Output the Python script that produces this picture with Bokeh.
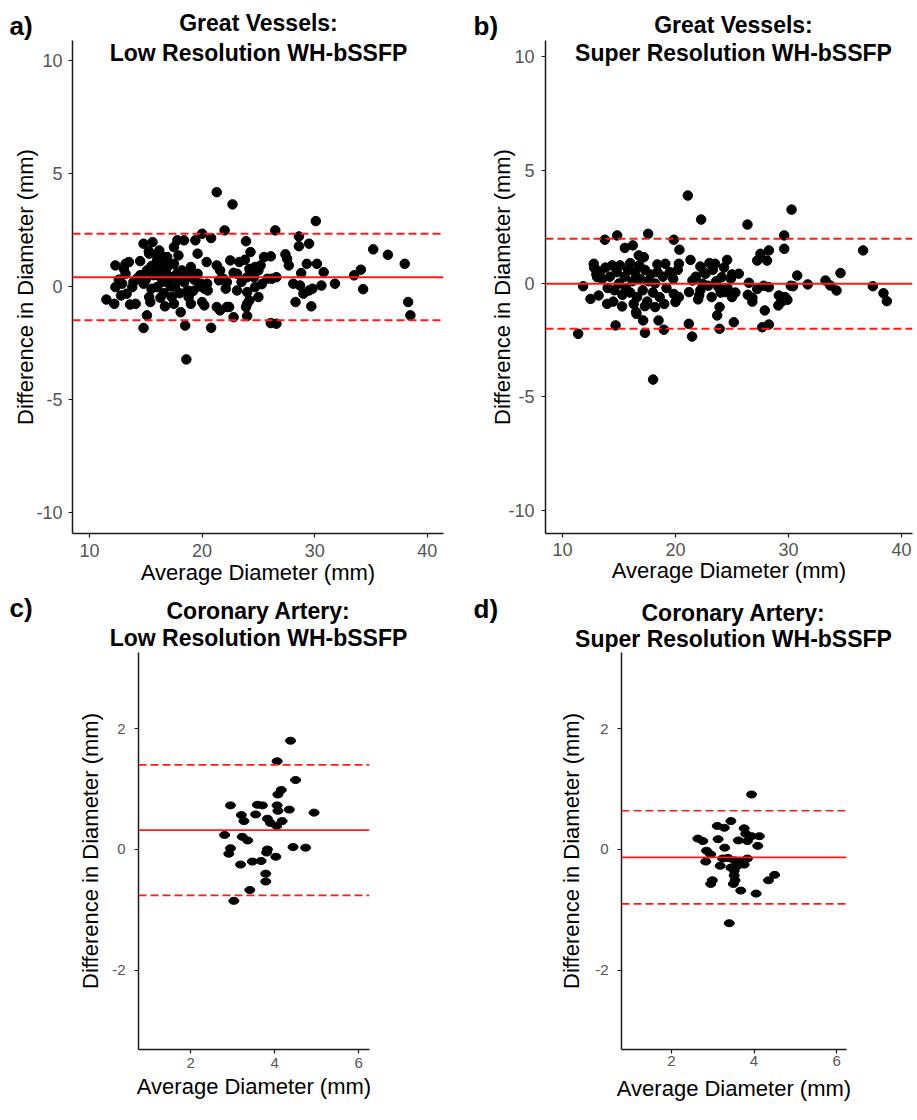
from bokeh.plotting import figure
from bokeh.models import Span, Label, FixedTicker, Range1d, ColumnDataSource, PrintfTickFormatter
from bokeh.layouts import column, row
from bokeh.embed import file_html
from bokeh.resources import INLINE

# ---------------- data ----------------
gv_low_avg = [11.5, 12.2, 12.3, 12.3, 12.6, 13.2, 13.5, 13.2, 12.9, 13.3, 13.6, 14.1, 14.5, 14.2, 13.8, 13.05, 12.8, 13.9,
              14.8, 15.6, 15.3, 15.1, 14.8, 15.3, 15.4, 15.1, 14.8, 15.27, 14.5, 15.0, 15.5, 15.7, 15.5,
              16.2, 16.0, 16.6, 16.9, 16.3, 16.0, 16.7, 16.0, 16.2, 16.5, 16.8, 16.4, 16.1, 16.6, 16.9, 16.3,
              17.5, 17.8, 18.4, 17.9, 17.5, 17.2, 17.6, 17.3, 17.5, 18.1, 18.5, 18.6, 16.9, 17.0, 17.8, 17.2, 17.9,
              18.2, 18.4, 18.7, 19.0, 18.8, 19.0, 19.4, 19.6, 20.0, 19.6, 19.9, 20.0, 20.2, 20.5, 20.4, 20.8, 20.8,
              18.6, 19.3, 18.0, 19.2, 20.2, 20.45, 18.9, 19.7,
              21.3, 21.3, 21.6, 21.5, 21.6, 22.0, 22.1, 22.4, 22.5, 22.7, 22.8, 23.3, 23.1, 23.9, 24.0, 24.0, 24.2,
              24.3, 24.2, 24.6, 25.0, 25.2, 25.5, 26.1, 25.8, 26.1, 26.5, 26.6, 26.6, 21.3, 22.2, 21.9, 23.1, 24.0,
              24.7, 25.0, 24.7, 24.0, 23.9, 22.2, 23.8, 26.2, 25.3, 23.5, 22.8,
              27.4, 27.7, 28.3, 28.1, 28.6, 28.6, 28.7, 28.8, 29.0, 29.3, 29.5, 29.5, 29.7, 30.1, 30.2, 30.6, 30.8,
              31.8, 33.5, 34.1, 34.3, 35.2, 36.5, 38.0, 38.3, 38.5, 27.55, 29.8]
gv_low_diff = [-0.58, -0.77, 0.93, -0.03, 0.30, 1.00, 1.08, 0.56, 0.12, -0.32, -0.80, -0.77, 1.12, 0.34, -0.03, 0.78, -0.40, 0.20,
               1.89, 1.96, 1.45, 0.71, 0.12, -0.47, -0.69, -1.28, -1.84, 1.56, 0.50, 0.30, 0.90, 0.50, -0.10,
               1.59, 1.15, 1.30, 0.86, 0.41, -0.03, -0.88, 1.37, 0.70, 0.20, 0.60, 1.00, 0.90, -0.30, 1.10, -0.50,
               1.74, 2.04, 2.04, 1.37, 1.00, 0.41, -0.03, -0.47, -0.77, -1.14, -1.73, -3.23, 1.30, 0.20, 0.60, 0.00, 0.30,
               0.71, 0.19, -0.18, 0.86, -0.47, -0.77, 2.04, 1.45, 2.33, 0.56, 0.12, -0.69, -0.84, -0.18, 1.08, -1.83, 2.14,
               0.40, 0.30, -0.30, -0.20, -0.10, 0.12, 0.60, 0.00,
               4.17, 0.93, 0.71, 0.27, -1.06, 2.48, -0.10, -0.91, 1.15, 3.63, -1.36, 1.08, -0.18, 2.00, -0.77, -1.31, -0.62,
               1.52, 0.78, 0.41, -0.47, 0.93, 1.30, 1.33, 0.34, -1.62, 2.48, -1.65, 0.41, -0.91, 0.19, 0.34, 0.56, 0.41,
               0.86, 0.71, -0.03, -0.25, -0.91, -0.91, 1.18, 0.34, 0.10, 0.20, 0.60,
               1.42, 0.93, -0.69, 0.12, 2.21, 1.78, 0.04, 0.59, -0.32, 1.00, 1.89, -0.18, -0.88, 2.89, 1.00, 0.04, 0.63,
               0.12, 0.49, 0.74, -0.12, 1.64, 1.40, 1.00, -0.69, -1.28, 1.22, -0.10]
gv_low_lines = [0.41, 2.33, -1.50]   # mean, upper LoA, lower LoA

gv_sr_avg = [21.09, 30.27, 22.27, 26.37, 29.62, 29.62, 17.58, 14.84, 13.75, 19.85, 20.35, 15.52, 16.22, 16.75, 17.2,
             21.33, 22.2, 20.3, 24.57, 25.6, 28.26, 27.52, 27.23, 28.1, 36.6, 34.6, 30.77, 33.27, 33.7, 34.25, 31.7,
             30.4, 37.46, 38.4, 38.7, 26.5, 27.23, 28.26, 26.8, 27.9, 29.14, 29.4, 29.9, 29.1, 11.83, 12.77, 12.9,
             13.07, 12.48, 13.2, 13.95, 15.28, 16.52, 18.2, 19.85, 20.0, 23.2, 23.9, 25.0, 18.4, 19.1, 23.5, 22.65,
             24.1, 24.9, 21.5, 22.4, 21.2, 22.1, 23.8, 24.4,
             11.39, 14.7, 16.55, 17.14, 17.3, 18.02, 18.5, 18.97, 21.18, 21.47, 23.69, 23.9, 25.16, 27.67, 28.26,
             12.8, 13.0, 13.3, 13.5, 13.8, 14.0, 14.2, 14.4, 14.6, 14.8, 15.0, 15.1, 15.3, 15.5, 15.6, 15.8, 16.0,
             16.0, 16.2, 16.4, 16.6, 16.8, 16.9, 17.1, 17.3, 17.5, 17.6, 17.8, 18.0, 18.2, 18.4, 18.6, 18.9, 19.2,
             19.5, 19.8, 20.3, 20.2, 14.5, 16.3, 17.3, 19.0,
             21.8, 22.2, 22.5, 22.9, 23.3, 23.6, 24.0, 24.3, 24.6, 25.0, 25.3, 22.0, 23.0,
             26.4, 26.8, 27.8, 29.4, 29.7, 30.2]
gv_sr_diff = [3.88, 3.26, 2.82, 2.60, 2.12, 1.53, 2.19, 2.12, 1.93, 1.93, 1.49, 1.57, 1.68, 1.24, 1.16,
              1.04, 0.75, 0.87, 1.04, 0.43, 1.46, 1.31, 1.01, 1.01, 1.46, 0.46, 0.35, 0.13, -0.09, -0.31, -0.04,
              -0.12, -0.12, -0.43, -0.78, 0.03, -0.24, -0.16, -0.63, -1.19, -0.53, -0.68, -0.72, -0.97, -0.12, 0.87, 0.65,
              0.28, -0.68, -0.53, -0.90, -1.01, -1.26, -1.04, -0.46, -0.82, -0.60, -1.04, -0.60, 0.84, 0.87, 0.87, 0.43,
              0.28, 0.21, 0.13, -0.01, -0.38, -0.53, -0.16, -0.38,
              -2.22, -1.85, -1.34, -1.63, -2.18, -4.24, -1.63, -2.04, -1.78, -2.34, -1.41, -2.00, -1.71, -1.93, -1.81,
              0.70, 0.40, 0.50, 0.20, 0.70, -0.20, 0.30, 0.80, -0.30, 0.50, 0.00, 0.80, -0.50, 0.30, -0.20, 0.60, 0.90,
              -0.40, 0.10, 0.50, -0.60, 0.80, 0.20, -0.30, 0.60, -0.80, 0.10, 0.40, -0.40, 0.00, 0.50, -0.60, 0.30, -0.20,
              0.50, 0.20, -0.60, 0.60, -0.80, -0.90, -1.00, -0.90,
              0.30, -0.30, 0.50, -0.10, 0.60, 0.10, -0.40, 0.70, -0.20, 0.40, -0.40, -0.70, 0.90,
              -0.50, -0.80, -0.10, -0.80, -0.60, -0.10]
gv_sr_lines = [-0.01, 1.97, -2.00]

ca_low_avg = [4.38, 4.06, 4.50, 4.16, 4.08, 2.95, 3.59, 3.71, 4.06, 4.08, 4.35, 4.94, 3.21, 3.55, 3.27, 3.83, 3.90, 4.18,
              4.05, 2.81, 3.23, 3.36, 2.95, 2.91, 3.83, 3.81, 4.03, 4.44, 4.74, 3.19, 3.47, 3.68, 3.79, 3.79, 3.41, 3.03]
ca_low_diff = [1.80, 1.46, 1.15, 0.985, 0.91, 0.73, 0.74, 0.73, 0.73, 0.64, 0.66, 0.61, 0.57, 0.58, 0.47, 0.51, 0.44, 0.47,
               0.39, 0.24, 0.21, 0.15, 0.02, -0.07, 0.00, -0.05, -0.12, 0.04, 0.03, -0.25, -0.20, -0.19, -0.40, -0.53, -0.67, -0.85]
ca_low_lines = [0.32, 1.40, -0.76]

ca_sr_avg = [3.94, 3.44, 3.11, 3.28, 3.76, 3.80, 4.13, 3.94, 2.64, 2.76, 3.13, 3.62, 3.84, 4.09, 3.29, 2.85, 2.95, 3.37,
             3.24, 2.83, 3.52, 3.68, 3.84, 3.18, 3.44, 3.60, 3.76, 3.52, 3.52, 3.54, 2.99, 2.95, 3.50, 4.50, 4.35, 3.68,
             4.05, 3.40]
ca_sr_diff = [0.91, 0.47, 0.39, 0.36, 0.35, 0.26, 0.22, 0.22, 0.18, 0.14, 0.17, 0.15, 0.14, 0.06, 0.03, -0.02, -0.08, -0.14,
              -0.15, -0.20, -0.18, -0.19, -0.15, -0.27, -0.30, -0.27, -0.25, -0.35, -0.43, -0.51, -0.51, -0.57, -0.57, -0.42,
              -0.51, -0.68, -0.73, -1.22]
ca_sr_lines = [-0.13, 0.64, -0.90]

gv_xticks = [10, 20, 30, 40]
gv_yticks = [-10, -5, 0, 5, 10]
ca_xticks = [2, 4, 6]
ca_yticks = [-2, 0, 2]

x_title = "Average Diameter (mm)"
y_title = "Difference in Diameter (mm)"
panel_titles = [("Great Vessels:", "Low Resolution WH-bSSFP"),
                ("Great Vessels:", "Super Resolution WH-bSSFP"),
                ("Coronary Artery:", "Low Resolution WH-bSSFP"),
                ("Coronary Artery:", "Super Resolution WH-bSSFP")]
panel_letters = ["a)", "b)", "c)", "d)"]

FONT = "Liberation Sans"
TITLE_FS = "23px"
LETTER_FS = "26px"


def title_label(x, y, txt, align="center", size=TITLE_FS):
    return Label(x=x, y=y, text=txt, text_align=align, text_baseline="middle",
                 text_font=FONT, text_font_size=size, text_font_style="bold", text_color="black")


def header(W, H, items):
    # strip of heading text above a panel; its ranges map 1:1 to its own pixels
    p = figure(width=W, height=H, output_backend="svg", toolbar_location=None,
               x_range=Range1d(0, W), y_range=Range1d(H, 0),
               x_axis_location=None, y_axis_location=None,
               min_border=0, min_border_left=0, min_border_right=0, min_border_top=0, min_border_bottom=0)
    p.outline_line_color = None
    p.grid.visible = False
    for it in items:
        p.add_layout(it)
    return p


def make_panel(cfg, xs, ys, lines, xticks, yticks, inner_title=None, ellipse=False):
    W, H = cfg["w"], cfg["h"]
    mbl, mbt, mbr, mbb = cfg["mb"]
    xr, yr = cfg["xr"], cfg["yr"]
    p = figure(width=W, height=H, output_backend="svg", toolbar_location=None,
               x_range=Range1d(*xr), y_range=Range1d(*yr),
               min_border_left=mbl, min_border_top=mbt, min_border_right=mbr, min_border_bottom=mbb)
    p.outline_line_color = None
    p.xgrid.visible = False
    p.ygrid.visible = False
    p.background_fill_color = "white"
    p.border_fill_color = "white"

    src = ColumnDataSource(dict(x=xs, y=ys))
    if ellipse:
        p.ellipse(x="x", y="y", width=10, height=7, width_units="screen", height_units="screen",
                  source=src, fill_color="black", line_color="black")
    else:
        p.scatter(x="x", y="y", size=9.5, source=src, fill_color="black", line_color="black")

    mean, up, lo = lines
    lw = cfg["lw"]
    p.add_layout(Span(location=mean, dimension="width", line_color="#FF1A1A", line_width=lw))
    p.add_layout(Span(location=up, dimension="width", line_color="#FF1A1A", line_width=lw, line_dash="8 4"))
    p.add_layout(Span(location=lo, dimension="width", line_color="#FF1A1A", line_width=lw, line_dash="8 4"))

    for ax, ticks in ((p.xaxis, xticks), (p.yaxis, yticks)):
        ax.ticker = FixedTicker(ticks=ticks)
        ax.formatter = PrintfTickFormatter(format="%d")
        ax.axis_line_color = "#1a1a1a"
        ax.axis_line_width = 1.5
        ax.major_tick_line_color = "#1a1a1a"
        ax.major_tick_line_width = 1.2
        ax.major_tick_in = 0
        ax.major_tick_out = 4
        ax.minor_tick_line_color = None
        ax.major_label_text_font = FONT
        ax.major_label_text_font_size = cfg["tick_fs"]
        ax.major_label_text_color = "#555555"
        ax.axis_label_text_font = FONT
        ax.axis_label_text_font_size = "22px"
        ax.axis_label_text_font_style = "normal"
        ax.axis_label_text_color = "black"
    p.xaxis.axis_label = x_title
    p.yaxis.axis_label = y_title
    p.xaxis.major_label_standoff = cfg["x_ls"]
    p.xaxis.axis_label_standoff = cfg["x_as"]
    p.yaxis.major_label_standoff = cfg["y_ls"]
    p.yaxis.axis_label_standoff = cfg["y_as"]

    if inner_title is not None:
        # heading line that sits inside the plotting area (local pixel position -> data)
        txt, X, Y = inner_title
        fw = W - mbl - mbr
        fh = H - mbt - mbb
        dx = xr[0] + (X - mbl) * (xr[1] - xr[0]) / fw
        dy = yr[1] - (Y - mbt) * (yr[1] - yr[0]) / fh
        p.add_layout(title_label(dx, dy, txt))
    return p


# ---- top row: headings strip (0..40) + panels (40..592)
TOP_H = 40
ta = header(463, TOP_H, [title_label(258, 22, panel_titles[0][0]),
                         title_label(9, 25, panel_letters[0], align="left", size=LETTER_FS)])
tb = header(454, TOP_H, [title_label(733 - 463, 24, panel_titles[1][0]),
                         title_label(473 - 463, 25, panel_letters[1], align="left", size=LETTER_FS)])

cfg_a = dict(w=463, h=592 - TOP_H, mb=(72, 0, 20, 59), xr=(8.49, 41.44), yr=(-10.93, 10.88),
             tick_fs="18px", x_ls=6, x_as=0, y_ls=6, y_as=-5, lw=2)
cfg_b = dict(w=454, h=592 - TOP_H, mb=(82, 0, 5, 59), xr=(8.50, 40.97), yr=(-11.03, 10.72),
             tick_fs="18px", x_ls=5, x_as=-1, y_ls=7, y_as=-10, lw=2)
pa = make_panel(cfg_a, gv_low_avg, gv_low_diff, gv_low_lines, gv_xticks, gv_yticks,
                inner_title=(panel_titles[0][1], 258, 52 - TOP_H))
pb = make_panel(cfg_b, gv_sr_avg, gv_sr_diff, gv_sr_lines, gv_xticks, gv_yticks,
                inner_title=(panel_titles[1][1], 733 - 463, 52 - TOP_H))

# ---- bottom row: headings strip (592..652) + panels (652..1120)
tc = header(463, 60, [title_label(258, 610 - 592, panel_titles[2][0]),
                      title_label(258, 637 - 592, panel_titles[2][1]),
                      title_label(9, 607 - 592, panel_letters[2], align="left", size=LETTER_FS)])
td = header(454, 60, [title_label(733 - 463, 612 - 592, panel_titles[3][0]),
                      title_label(733 - 463, 638 - 592, panel_titles[3][1]),
                      title_label(473 - 463, 608 - 592, panel_letters[3], align="left", size=LETTER_FS)])

cfg_c = dict(w=463, h=468, mb=(138, 0, 94, 71), xr=(0.76, 6.26), yr=(-3.31, 3.26),
             tick_fs="15px", x_ls=4, x_as=3, y_ls=9, y_as=6, lw=1.6)
cfg_d = dict(w=454, h=468, mb=(158, 0, 71, 71), xr=(0.79, 6.24), yr=(-3.31, 3.26),
             tick_fs="15px", x_ls=2, x_as=7, y_ls=9, y_as=8, lw=1.6)
pc = make_panel(cfg_c, ca_low_avg, ca_low_diff, ca_low_lines, ca_xticks, ca_yticks, ellipse=True)
pd_ = make_panel(cfg_d, ca_sr_avg, ca_sr_diff, ca_sr_lines, ca_xticks, ca_yticks, ellipse=True)

layout = column(row(ta, tb), row(pa, pb), row(tc, td), row(pc, pd_))
open("out.html", "w").write(file_html(layout, INLINE))
